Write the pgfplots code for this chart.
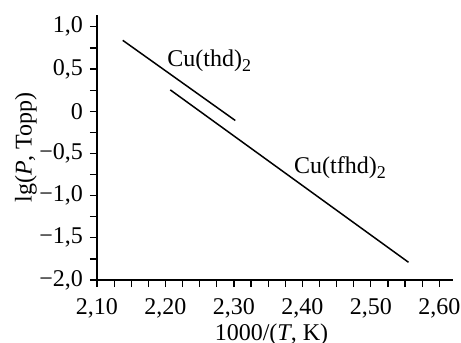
\documentclass[border=0pt]{standalone}
\usepackage{fontspec}
\setmainfont{Liberation Serif}
\usepackage{pgfplots}
\pgfplotsset{compat=1.18}
\newcommand{\fs}{\fontsize{12}{14}\selectfont}
\newcommand{\sub}[1]{\raisebox{-0.45ex}{\fontsize{9}{10}\selectfont #1}}
\begin{document}
\begin{tikzpicture}
\path[use as bounding box] (-48.5pt,-31.5pt) rectangle (182pt,140pt);
\begin{axis}[
 at={(0,0)}, anchor=south west,
 scale only axis, width=178pt, height=132.5pt,
 xmin=2.10, xmax=2.62, ymin=-2.0, ymax=1.14,
 axis x line*=bottom, axis y line*=left,
 axis line style={-, line width=0.6pt},
 xtick={2.10,2.20,2.30,2.40,2.50,2.60},
 xticklabels={{2,10},{2,20},{2,30},{2,40},{2,50},{2,60}},
 ytick={-2,-1.5,-1,-0.5,0,0.5,1},
 yticklabels={{−2,0},{−1,5},{−1,0},{−0,5},{0},{0,5},{1,0}},
 minor x tick num=3, minor y tick num=1,
 tick align=outside, major tick length=3.5pt, minor tick length=3.5pt,
 tick style={black, line width=0.6pt},
 ticklabel style={font=\fs},
 xticklabel style={yshift=-2pt},
 xlabel={1000/(\textit{T}, K)},
 ylabel={lg(\textit{P}, Topp)},
 xlabel style={font=\fs, at={(axis description cs:0.49,-0.205)}, anchor=center},
 ylabel style={font=\fs, at={(axis description cs:-0.2,0.5)}, anchor=center},
 clip=false,
]
\addplot[black, line width=0.75pt] coordinates {(2.1376,0.84) (2.302,-0.11)};
\addplot[black, line width=0.75pt] coordinates {(2.207,0.253) (2.555,-1.79)};
\node[font=\fs] at (axis cs:2.264,0.60) {Cu(thd)\sub{2}};
\node[font=\fs] at (axis cs:2.455,-0.67) {Cu(tfhd)\sub{2}};
\end{axis}
\end{tikzpicture}
\end{document}
